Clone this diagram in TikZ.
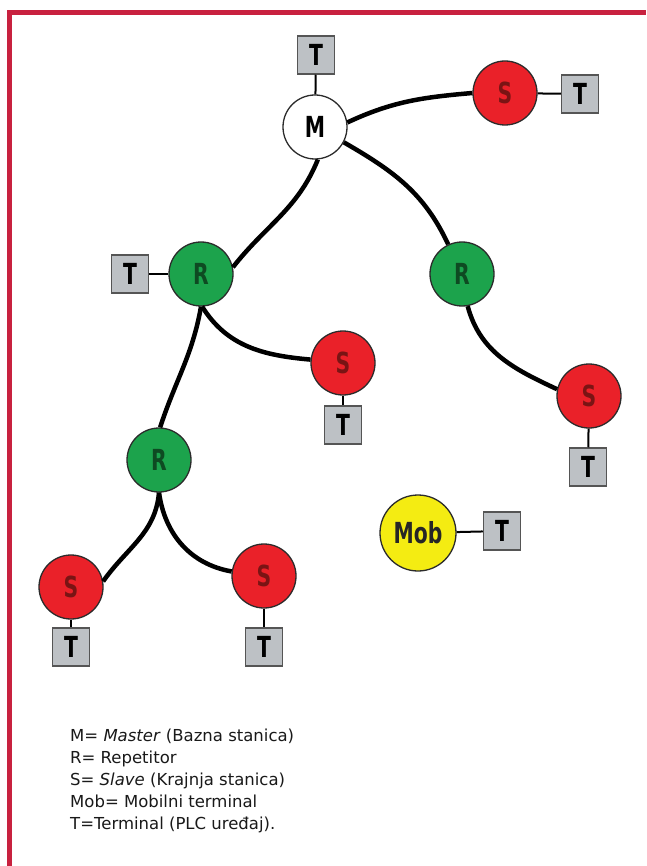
\documentclass[tikz,border=0pt]{standalone}
\usepackage{fontspec}
\setmainfont{DejaVu Sans}
\newfontfamily\nodefont[FakeStretch=0.78]{DejaVu Sans Condensed Bold}
\definecolor{framered}{HTML}{C8213F}
\definecolor{rgreen}{HTML}{1CA34C}
\definecolor{rgreentext}{HTML}{0E4A22}
\definecolor{sred}{HTML}{EA2129}
\definecolor{sredtext}{HTML}{7A1414}
\definecolor{myellow}{HTML}{F4EC12}
\definecolor{boxgray}{HTML}{BDC1C5}
\definecolor{rimgray}{HTML}{2B2B2B}
\begin{document}
\begin{tikzpicture}[x=1pt,y=1pt,
  nd/.style={circle,draw=rimgray,line width=1.3pt,minimum size=64pt,inner sep=0pt,
    font=\nodefont\fontsize{29}{29}\selectfont},
  mnode/.style={nd,fill=white,text=black},
  rnode/.style={nd,fill=rgreen,text=rgreentext},
  snode/.style={nd,fill=sred,text=sredtext},
  mobnode/.style={nd,fill=myellow,text=black!85,minimum size=76pt},
  tbox/.style={rectangle,draw=rimgray!80,line width=1.5pt,fill=boxgray,
    minimum width=37pt,minimum height=38pt,inner sep=0pt,
    font=\nodefont\fontsize{29}{29}\selectfont},
  link/.style={line width=4.5pt,black},
  stub/.style={line width=2pt,black},
  framestyle/.style={line width=5pt,framered,line join=miter},
  legend/.style={anchor=north west,align=left,inner sep=0pt,text=black!90,
    font=\fontsize{16.5}{22}\selectfont}]
\useasboundingbox (0,0) rectangle (646,-866);
\fill[white] (0,0) rectangle (646,-866);
% frame
\draw[framestyle] (9.5,-866) -- (9.5,-12.5) -- (646,-12.5);
% nodes
\node[mnode] (M) at (315,-127) {M};
\node[tbox] (TM) at (316,-55) {T};
\node[snode] (S1) at (505,-93) {S};
\node[tbox] (TS1) at (580,-94) {T};
\node[rnode] (R1) at (201,-274) {R};
\node[tbox] (TR1) at (130,-274) {T};
\node[rnode] (R2) at (462,-274) {R};
\node[snode] (S2) at (343,-363) {S};
\node[tbox] (TS2) at (343,-425) {T};
\node[snode] (S3) at (589,-396) {S};
\node[tbox] (TS3) at (588,-467) {T};
\node[rnode] (R3) at (159,-460) {R};
\node[snode] (S4) at (71,-587) {S};
\node[tbox] (TS4) at (71,-647) {T};
\node[snode] (S5) at (264,-576) {S};
\node[tbox] (TS5) at (264,-647) {T};
\node[mobnode] (Mob) at (418,-533) {Mob};
\node[tbox] (TMob) at (502,-531) {T};
% stubs
\draw[stub] (TM) -- (M);
\draw[stub] (S1) -- (TS1);
\draw[stub] (TR1) -- (R1);
\draw[stub] (S2) -- (TS2);
\draw[stub] (S3) -- (TS3);
\draw[stub] (S4) -- (TS4);
\draw[stub] (S5) -- (TS5);
\draw[stub] (Mob) -- (TMob);
% links
\draw[link] (M.8) to[out=25,in=185] (S1.west);
\draw[link] (M.-85) to[out=-112,in=52] (R1.12);
\draw[link] (M.-28) to[out=-30,in=115] (R2.115);
\draw[link] (R1.-88) to[out=-58,in=175] (S2.174);
\draw[link] (R1.-90) to[out=-100,in=72] (R3.88);
\draw[link] (R2.-80) to[out=-75,in=155] (S3.168);
\draw[link] (R3.-90) to[out=-95,in=55] (S4.10);
\draw[link] (R3.-90) to[out=-82,in=170] (S5.172);
% legend
\node[legend] (leg) at (70,-729) {M= \textit{Master} (Bazna stanica)\\
R= Repetitor\\
S= \textit{Slave} (Krajnja stanica)\\
Mob= Mobilni terminal\\
T=Terminal (PLC uređaj).};
\end{tikzpicture}
\end{document}
